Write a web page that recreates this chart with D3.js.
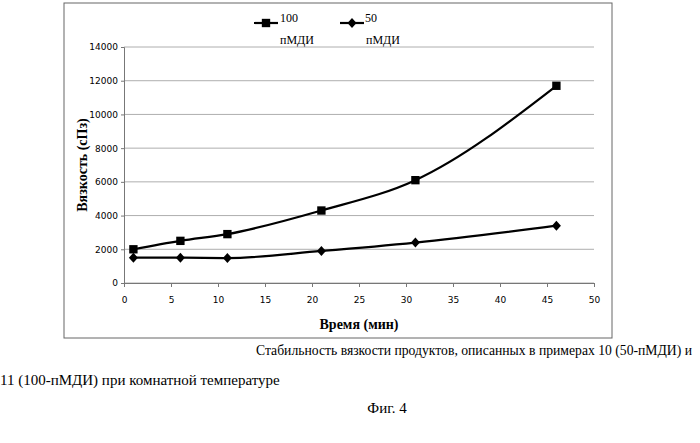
<!DOCTYPE html>
<html><head><meta charset="utf-8">
<script src="https://cdnjs.cloudflare.com/ajax/libs/d3/7.8.5/d3.min.js"></script>
<style>body{margin:0;background:#fff}</style></head>
<body><div id="c"></div>
<script>
const timeMin = [1, 6, 11, 21, 31, 46];
const visc100 = [2000, 2500, 2900, 4300, 6100, 11700];
const visc50 = [1500, 1500, 1480, 1900, 2400, 3400];
const xTicks = [0, 5, 10, 15, 20, 25, 30, 35, 40, 45, 50];
const yTicks = [0, 2000, 4000, 6000, 8000, 10000, 12000, 14000];

const svg = d3.select('#c').append('svg').attr('width', 700).attr('height', 443);
const x = d3.scaleLinear().domain([0, 50]).range([124, 594]);
const y = d3.scaleLinear().domain([0, 14000]).range([283, 47]);

// рамка диаграммы
svg.append('rect').attr('x', 64).attr('y', 3).attr('width', 548).attr('height', 335)
  .attr('fill', 'none').attr('stroke', '#666').attr('stroke-width', 1);

// сетка
yTicks.forEach(v => {
  svg.append('line').attr('x1', 124).attr('x2', 594).attr('y1', y(v)).attr('y2', y(v))
    .attr('stroke', '#999').attr('stroke-width', 0.8);
});

const yAxis = svg.append('g').attr('transform', 'translate(124,0)')
  .call(d3.axisLeft(y).tickValues(yTicks).tickSize(3).tickFormat(d3.format('d')));
const xAxis = svg.append('g').attr('transform', 'translate(0,283)')
  .call(d3.axisBottom(x).tickValues(xTicks).tickSize(4).tickFormat(d3.format('d')));
[yAxis, xAxis].forEach(a => {
  a.selectAll('text').attr('font-family', 'DejaVu Sans').attr('font-size', 9).attr('fill', '#000');
  a.selectAll('path,line').attr('stroke', '#777');
});
xAxis.selectAll('text').attr('dy', '1.4em');

const line = d3.line().x(d => x(d[0])).y(d => y(d[1])).curve(d3.curveMonotoneX);
const s100 = timeMin.map((t, i) => [t, visc100[i]]);
const s50 = timeMin.map((t, i) => [t, visc50[i]]);
[s100, s50].forEach(s => {
  svg.append('path').attr('d', line(s)).attr('fill', 'none').attr('stroke', '#000').attr('stroke-width', 2.2);
});
const sq = d3.symbol().type(d3.symbolSquare).size(70);
const dm = 'M0,-5L4.5,0L0,5L-4.5,0Z';
svg.selectAll('.m1').data(s100).join('path').attr('d', sq)
  .attr('transform', d => `translate(${x(d[0])},${y(d[1])})`).attr('fill', '#000');
svg.selectAll('.m2').data(s50).join('path').attr('d', dm)
  .attr('transform', d => `translate(${x(d[0])},${y(d[1])})`).attr('fill', '#000');

// легенда
const lg = svg.append('g').attr('font-family', 'Liberation Serif').attr('font-size', 12);
lg.append('line').attr('x1', 254).attr('x2', 278).attr('y1', 23).attr('y2', 23).attr('stroke', '#000').attr('stroke-width', 2.2);
lg.append('path').attr('d', sq).attr('transform', 'translate(266,23)');
lg.append('text').attr('x', 280).attr('y', 22).text('100');
lg.append('text').attr('x', 280).attr('y', 44).text('пМДИ');
lg.append('line').attr('x1', 340).attr('x2', 364).attr('y1', 23).attr('y2', 23).attr('stroke', '#000').attr('stroke-width', 2.2);
lg.append('path').attr('d', dm).attr('transform', 'translate(352,23)');
lg.append('text').attr('x', 365).attr('y', 22).text('50');
lg.append('text').attr('x', 366).attr('y', 44).text('пМДИ');

// подписи осей
svg.append('text').attr('transform', 'translate(87,165) rotate(-90)').attr('text-anchor', 'middle')
  .attr('font-family', 'Liberation Serif').attr('font-weight', 'bold').attr('font-size', 14).text('Вязкость (сПз)');
svg.append('text').attr('x', 359).attr('y', 329).attr('text-anchor', 'middle')
  .attr('font-family', 'Liberation Serif').attr('font-weight', 'bold').attr('font-size', 14).text('Время (мин)');

// подпись рисунка
const cap = svg.append('g').attr('font-family', 'Liberation Serif').attr('font-size', 15).attr('fill', '#000');
cap.append('text').attr('x', 256).attr('y', 355).attr('textLength', 436).attr('lengthAdjust', 'spacingAndGlyphs')
  .text('Стабильность вязкости продуктов, описанных в примерах 10 (50-пМДИ) и');
cap.append('text').attr('x', 0).attr('y', 385).text('11 (100-пМДИ) при комнатной температуре');
cap.append('text').attr('x', 387).attr('y', 413).attr('text-anchor', 'middle').text('Фиг. 4');
</script></body></html>
